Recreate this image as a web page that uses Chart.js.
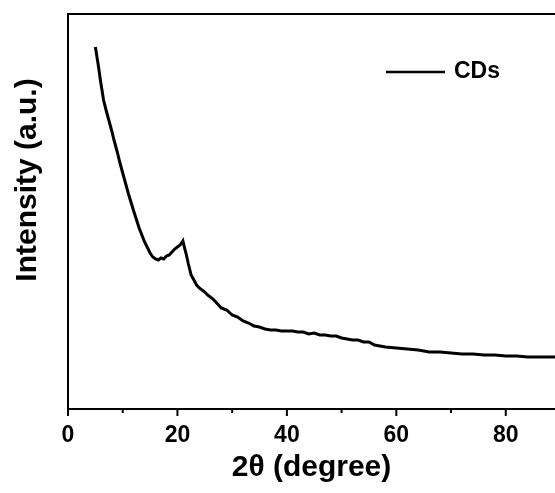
<!DOCTYPE html>
<html lang="en">
<head>
<meta charset="UTF-8">
<title>XRD CDs</title>
<script src="https://cdn.jsdelivr.net/npm/chart.js"></script>
<style>
  html, body { margin: 0; padding: 0; background: #fff; }
  #wrap { width: 555px; height: 493px; }
</style>
</head>
<body>
<div id="wrap"><canvas id="xrd" width="555" height="493"></canvas></div>
<script>
// 2θ values (degree) and intensity (a.u.)
const twoTheta = [5, 5.5, 6, 6.5, 7, 7.5, 8, 8.5, 9, 9.5, 10, 11, 12, 13, 14, 15, 15.5, 16, 16.5, 17,
  17.5, 18, 18.5, 19, 19.5, 20, 20.5, 21, 21.3, 21.6, 22, 22.5, 23, 23.5, 24, 24.5, 25, 25.5, 26, 26.5,
  27, 28, 29, 30, 31, 32, 33, 34, 35, 36, 37, 38, 39, 40, 41, 42, 43, 44, 45, 46,
  47, 48, 49, 50, 51, 52, 53, 54, 55, 56, 57, 58, 60, 62, 64, 66, 68, 70, 72, 74,
  76, 78, 80, 82, 84, 86, 88, 89];
const intensity = [362, 345, 326, 309, 298, 288, 278, 267, 257, 246, 236, 216, 198, 181, 167, 156, 152, 150, 149, 151,
  150, 153, 154, 157, 160, 162, 164, 168, 161, 155, 145, 134, 129, 124, 121, 119, 117, 114, 112, 110,
  107, 101, 99, 94, 92, 88, 86, 83, 82, 80, 79, 79, 78, 78, 78, 77, 77, 75, 76, 74,
  74, 73, 73, 71, 70, 69, 69, 67, 67, 64, 63, 62, 61, 60, 59, 57, 57, 56, 55, 55,
  54, 54, 53, 53, 52, 52, 52, 52];
const seriesLabel = 'CDs';
const majorTicks = [0, 20, 40, 60, 80];
const minorTicks = [10, 30, 50, 70];
const yTitle = 'Intensity (a.u.)';

const FONT = '"Liberation Sans", Arial, sans-serif';

const framePlugin = {
  id: 'frameTicks',
  afterDraw(chart) {
    const { ctx, chartArea } = chart;
    const xs = chart.scales.x;
    ctx.save();
    ctx.strokeStyle = '#000';
    ctx.lineWidth = 2;
    // top frame line
    ctx.beginPath();
    ctx.moveTo(chartArea.left - 1, chartArea.top);
    ctx.lineTo(chartArea.right + 2, chartArea.top);
    ctx.stroke();
    majorTicks.forEach(v => {
      const px = xs.getPixelForValue(v);
      ctx.beginPath();
      ctx.moveTo(px, chartArea.bottom);
      ctx.lineTo(px, chartArea.bottom + 7);
      ctx.stroke();
    });
    minorTicks.forEach(v => {
      const px = xs.getPixelForValue(v);
      ctx.beginPath();
      ctx.moveTo(px, chartArea.bottom);
      ctx.lineTo(px, chartArea.bottom + 4);
      ctx.stroke();
    });
    // legend
    ctx.lineWidth = 2.5;
    ctx.beginPath();
    ctx.moveTo(386, 72);
    ctx.lineTo(445, 72);
    ctx.stroke();
    ctx.fillStyle = '#000';
    ctx.font = 'bold 23px ' + FONT;
    ctx.textBaseline = 'middle';
    ctx.fillText(seriesLabel, 454, 72);
    // y title, sits a little above the middle of the frame
    ctx.translate(28, 180);
    ctx.rotate(-Math.PI / 2);
    ctx.textAlign = 'center';
    ctx.font = 'bold 30px ' + FONT;
    ctx.fillText(yTitle, 0, 0);
    ctx.restore();
  }
};

new Chart(document.getElementById('xrd'), {
  type: 'line',
  data: {
    datasets: [{
      label: seriesLabel,
      data: twoTheta.map((x, i) => ({ x: x, y: intensity[i] })),
      borderColor: '#000',
      borderWidth: 3,
      pointRadius: 0,
      tension: 0,
      fill: false
    }]
  },
  options: {
    responsive: false,
    animation: false,
    layout: { padding: { top: 14, right: 0, left: 0, bottom: 0 } },
    plugins: { legend: { display: false }, tooltip: { enabled: false } },
    scales: {
      x: {
        type: 'linear',
        min: 0,
        max: 89,
        grid: { display: false },
        border: { display: true, color: '#000', width: 2 },
        afterBuildTicks(s) { s.ticks = majorTicks.map(v => ({ value: v })); },
        ticks: {
          color: '#000',
          padding: 5,
          maxRotation: 0,
          font: { family: FONT, size: 23, weight: 'bold' }
        },
        title: {
          display: true,
          text: '2θ (degree)',
          color: '#000',
          padding: { top: 0, bottom: 7 },
          font: { family: FONT, size: 30, weight: 'bold' }
        },
        afterFit(s) { s.height = 84; }
      },
      y: {
        min: 0,
        max: 395,
        grid: { display: false },
        border: { display: true, color: '#000', width: 2 },
        ticks: { display: false },
        afterFit(s) { s.width = 68; }
      }
    }
  },
  plugins: [framePlugin]
});
</script>
</body>
</html>
